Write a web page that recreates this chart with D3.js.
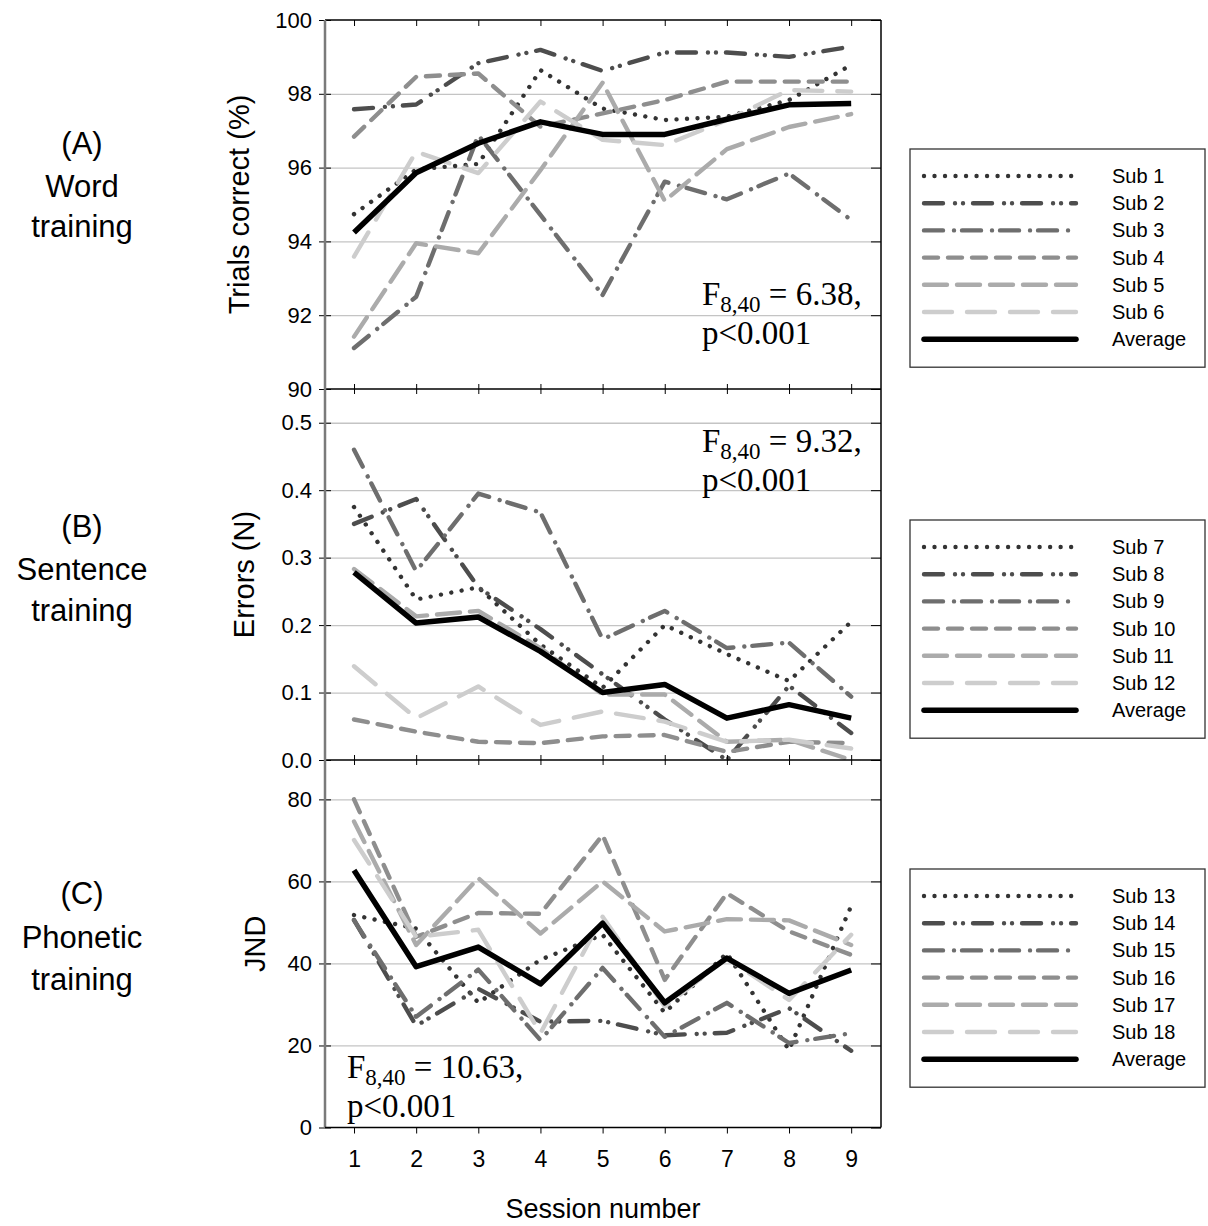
<!DOCTYPE html>
<html>
<head>
<meta charset="utf-8">
<script src="https://cdn.jsdelivr.net/npm/d3@7"></script>
<style>
  body { margin: 0; background: #fff; }
  svg { display: block; }
</style>
</head>
<body>
<svg id="chart" width="1208" height="1226"></svg>
<script>
"use strict";

// sessions along the x axis
const sessions = [1, 2, 3, 4, 5, 6, 7, 8, 9];

// (A) Word training - trials correct (%)
const wordSub1 = [94.74, 95.95, 96.10, 98.64, 97.60, 97.29, 97.38, 97.83, 98.78];
const wordSub2 = [97.58, 97.71, 98.83, 99.19, 98.62, 99.12, 99.12, 99.00, 99.28];
const wordSub3 = [91.11, 92.50, 96.88, 94.72, 92.55, 95.62, 95.14, 95.84, 94.58];
const wordSub4 = [96.84, 98.46, 98.55, 97.11, 97.47, 97.83, 98.33, 98.33, 98.33];
const wordSub5 = [91.42, 93.95, 93.68, 95.93, 98.30, 95.10, 96.50, 97.10, 97.45];
const wordSub6 = [93.59, 96.43, 95.85, 97.79, 96.75, 96.61, 97.29, 98.10, 98.06];
const wordAvg  = [94.24, 95.86, 96.66, 97.24, 96.90, 96.90, 97.31, 97.70, 97.74];

// (B) Sentence training - errors (N)
const sentSub7  = [0.375, 0.238, 0.256, 0.171, 0.107, 0.200, 0.157, 0.117, 0.205];
const sentSub8  = [0.350, 0.387, 0.256, 0.194, 0.127, 0.060, 0.000, 0.110, 0.040];
const sentSub9  = [0.460, 0.280, 0.395, 0.367, 0.179, 0.221, 0.166, 0.174, 0.094];
const sentSub10 = [0.060, 0.042, 0.027, 0.025, 0.035, 0.037, 0.012, 0.027, 0.025];
const sentSub11 = [0.283, 0.213, 0.221, 0.166, 0.097, 0.097, 0.027, 0.030, 0.000];
const sentSub12 = [0.139, 0.062, 0.109, 0.052, 0.072, 0.057, 0.027, 0.030, 0.017];
const sentAvg   = [0.278, 0.203, 0.212, 0.161, 0.100, 0.112, 0.062, 0.082, 0.062];

// (C) Phonetic training - JND
const phonSub13 = [51.8, 48.5, 30.4, 40.9, 47.0, 28.0, 42.5, 18.9, 54.0];
const phonSub14 = [50.6, 24.8, 33.8, 25.8, 26.0, 22.5, 23.1, 29.1, 18.7];
const phonSub15 = [50.5, 27.0, 38.5, 21.3, 38.9, 22.1, 30.4, 20.6, 23.0];
const phonSub16 = [80.0, 46.5, 52.3, 52.1, 71.3, 36.0, 57.1, 47.8, 42.1];
const phonSub17 = [74.6, 44.5, 60.8, 47.3, 60.0, 47.8, 50.8, 50.5, 44.5];
const phonSub18 = [70.1, 46.5, 48.2, 23.0, 51.4, 29.5, 41.3, 31.1, 47.0];
const phonAvg   = [62.7, 39.2, 44.0, 35.0, 49.8, 30.4, 41.3, 32.7, 38.4];

// legend labels and tick values
const wordNames = ["Sub 1", "Sub 2", "Sub 3", "Sub 4", "Sub 5", "Sub 6", "Average"];
const sentNames = ["Sub 7", "Sub 8", "Sub 9", "Sub 10", "Sub 11", "Sub 12", "Average"];
const phonNames = ["Sub 13", "Sub 14", "Sub 15", "Sub 16", "Sub 17", "Sub 18", "Average"];
const wordTicks = [90, 92, 94, 96, 98, 100];
const sentTicks = [0.0, 0.1, 0.2, 0.3, 0.4, 0.5];
const phonTicks = [0, 20, 40, 60, 80];

// line styles, one per series slot
const styles = [
  { color: "#333333", dash: "0.01 10.5", width: 4.4 },
  { color: "#4d4d4d", dash: "19 12 0.01 8 0.01 10", width: 4.4 },
  { color: "#6e6e6e", dash: "19 11 0.01 8", width: 4.4 },
  { color: "#8e8e8e", dash: "14 10", width: 4.4 },
  { color: "#ababab", dash: "23 10", width: 4.4 },
  { color: "#cdcdcd", dash: "28 15", width: 4.4 },
  { color: "#000000", dash: null, width: 5.5 }
];

const LEFT = 325, RIGHT = 881;
const svg = d3.select("#chart");

const x = d3.scaleLinear().domain([0.533, 9.48]).range([LEFT, RIGHT]);

const panels = [
  {
    series: [wordSub1, wordSub2, wordSub3, wordSub4, wordSub5, wordSub6, wordAvg],
    names: wordNames, ticks: wordTicks, fmt: d3.format("d"),
    y: d3.scaleLinear().domain([90, 100]).range([389, 20]),
    title: "Trials correct (%)", titleX: 249,
    side: ["(A)", "Word", "training"], sideY: [154, 197, 237],
    stat: "6.38,", statX: 702, statY: 305,
    legendTop: 176
  },
  {
    series: [sentSub7, sentSub8, sentSub9, sentSub10, sentSub11, sentSub12, sentAvg],
    names: sentNames, ticks: sentTicks, fmt: d3.format(".1f"),
    y: d3.scaleLinear().domain([0, 0.55]).range([760, 389]),
    title: "Errors (N)", titleX: 254,
    side: ["(B)", "Sentence", "training"], sideY: [537, 580, 621],
    stat: "9.32,", statX: 702, statY: 452,
    legendTop: 547
  },
  {
    series: [phonSub13, phonSub14, phonSub15, phonSub16, phonSub17, phonSub18, phonAvg],
    names: phonNames, ticks: phonTicks, fmt: d3.format("d"),
    y: d3.scaleLinear().domain([0, 89.6]).range([1127.5, 760]),
    title: "JND", titleX: 265,
    side: ["(C)", "Phonetic", "training"], sideY: [904, 948, 990],
    stat: "10.63,", statX: 347, statY: 1078,
    legendTop: 896
  }
];

panels.forEach(function(p, pi) {
  const y = p.y;
  const top = y.range()[1], bottom = y.range()[0];
  const g = svg.append("g");

  // gridlines
  const inner = p.ticks.filter(function(t) { return y(t) > top + 1 && y(t) < bottom - 1; });
  const grid = g.append("g")
    .attr("transform", "translate(" + LEFT + ",0)")
    .call(d3.axisRight(y).tickValues(inner).tickSize(RIGHT - LEFT).tickFormat(""));
  grid.select(".domain").remove();
  grid.selectAll("line").attr("stroke", "#c4c4c4").attr("stroke-width", 1.3);

  // series lines
  const line = d3.line()
    .x(function(d, i) { return x(sessions[i]); })
    .y(function(d) { return y(d); });

  p.series.forEach(function(s, i) {
    const st = styles[i];
    g.append("path")
      .datum(s)
      .attr("d", line)
      .attr("fill", "none")
      .attr("stroke", st.color)
      .attr("stroke-width", st.width)
      .attr("stroke-dasharray", st.dash)
      .attr("stroke-linecap", st.dash ? "round" : "butt")
      .attr("stroke-linejoin", "round");
  });

  // left axis with labels
  const ax = g.append("g")
    .attr("transform", "translate(" + LEFT + ",0)")
    .call(d3.axisLeft(y).tickValues(p.ticks).tickSize(6).tickPadding(7).tickFormat(p.fmt));
  ax.select(".domain").remove();
  ax.selectAll(".tick line").attr("x1", 6).attr("stroke", "#000");
  ax.selectAll("text")
    .attr("font-family", "Liberation Sans, Arial, sans-serif")
    .attr("font-size", 22)
    .attr("fill", "#000");

  // right side ticks
  const ar = g.append("g")
    .attr("transform", "translate(" + RIGHT + ",0)")
    .call(d3.axisLeft(y).tickValues(p.ticks).tickSize(10).tickFormat(""));
  ar.select(".domain").remove();
  ar.selectAll("line").attr("x2", 0).attr("x1", -10).attr("stroke", "#000");

  // top x ticks of panel
  const xt = g.append("g")
    .attr("transform", "translate(0," + top + ")")
    .call(d3.axisBottom(x).tickValues(sessions).tickSize(6).tickFormat(""));
  xt.select(".domain").remove();
  if (pi > 0) xt.selectAll("line").attr("y1", -5).attr("y2", 5);

  // frame top and right
  g.append("line").attr("x1", LEFT).attr("x2", RIGHT).attr("y1", top).attr("y2", top)
    .attr("stroke", "#000").attr("stroke-width", 1.5);
  g.append("line").attr("x1", RIGHT).attr("x2", RIGHT).attr("y1", top).attr("y2", bottom)
    .attr("stroke", "#000").attr("stroke-width", 1.5);

  // y title
  g.append("text")
    .attr("transform", "translate(" + p.titleX + "," + ((top + bottom) / 2) + ") rotate(-90)")
    .attr("text-anchor", "middle")
    .attr("font-family", "Liberation Sans, Arial, sans-serif")
    .attr("font-size", 29)
    .text(p.title);

  // side panel label
  p.side.forEach(function(t, i) {
    g.append("text")
      .attr("x", 82).attr("y", p.sideY[i])
      .attr("text-anchor", "middle")
      .attr("font-family", "Liberation Sans, Arial, sans-serif")
      .attr("font-size", 31)
      .text(t);
  });

  // statistics annotation
  const st = g.append("text")
    .attr("x", p.statX).attr("y", p.statY)
    .attr("font-family", "Liberation Serif, Times New Roman, serif")
    .attr("font-size", 33);
  st.append("tspan").text("F");
  st.append("tspan").attr("dy", 7).attr("font-size", 23).text("8,40");
  st.append("tspan").attr("dy", -7).text(" = " + p.stat);
  g.append("text")
    .attr("x", p.statX).attr("y", p.statY + 39)
    .attr("font-family", "Liberation Serif, Times New Roman, serif")
    .attr("font-size", 33)
    .text("p<0.001");

  // legend
  const step = 27.2;
  const lg = svg.append("g");
  lg.append("rect")
    .attr("x", 910).attr("y", p.legendTop - 27)
    .attr("width", 295).attr("height", step * 6 + 55)
    .attr("fill", "#fff").attr("stroke", "#333").attr("stroke-width", 1.3);
  p.names.forEach(function(n, i) {
    const st2 = styles[i];
    const ly = p.legendTop + i * step;
    lg.append("line")
      .attr("x1", 924).attr("x2", 1076).attr("y1", ly).attr("y2", ly)
      .attr("stroke", st2.color)
      .attr("stroke-width", st2.width)
      .attr("stroke-dasharray", st2.dash)
      .attr("stroke-linecap", "round");
    lg.append("text")
      .attr("x", 1112).attr("y", ly + 7)
      .attr("font-family", "Liberation Sans, Arial, sans-serif")
      .attr("font-size", 20)
      .text(n);
  });
});

// left axis line (gray, spanning all panels)
svg.append("line")
  .attr("x1", LEFT).attr("x2", LEFT).attr("y1", 20).attr("y2", 1128)
  .attr("stroke", "#7a7a7a").attr("stroke-width", 2.5);

// bottom axis
const yBottom = panels[2].y.range()[0];
const xb = svg.append("g")
  .attr("transform", "translate(0," + yBottom + ")")
  .call(d3.axisBottom(x).tickValues(sessions).tickSize(6).tickPadding(17).tickFormat(d3.format("d")));
xb.select(".domain").remove();
xb.selectAll("line").attr("stroke", "#000");
xb.selectAll("text")
  .attr("font-family", "Liberation Sans, Arial, sans-serif")
  .attr("font-size", 23)
  .attr("fill", "#000");
svg.append("line").attr("x1", LEFT).attr("x2", RIGHT).attr("y1", yBottom).attr("y2", yBottom)
  .attr("stroke", "#000").attr("stroke-width", 1.5);

svg.append("text")
  .attr("x", (LEFT + RIGHT) / 2).attr("y", 1218)
  .attr("text-anchor", "middle")
  .attr("font-family", "Liberation Sans, Arial, sans-serif")
  .attr("font-size", 27)
  .text("Session number");
</script>
</body>
</html>
